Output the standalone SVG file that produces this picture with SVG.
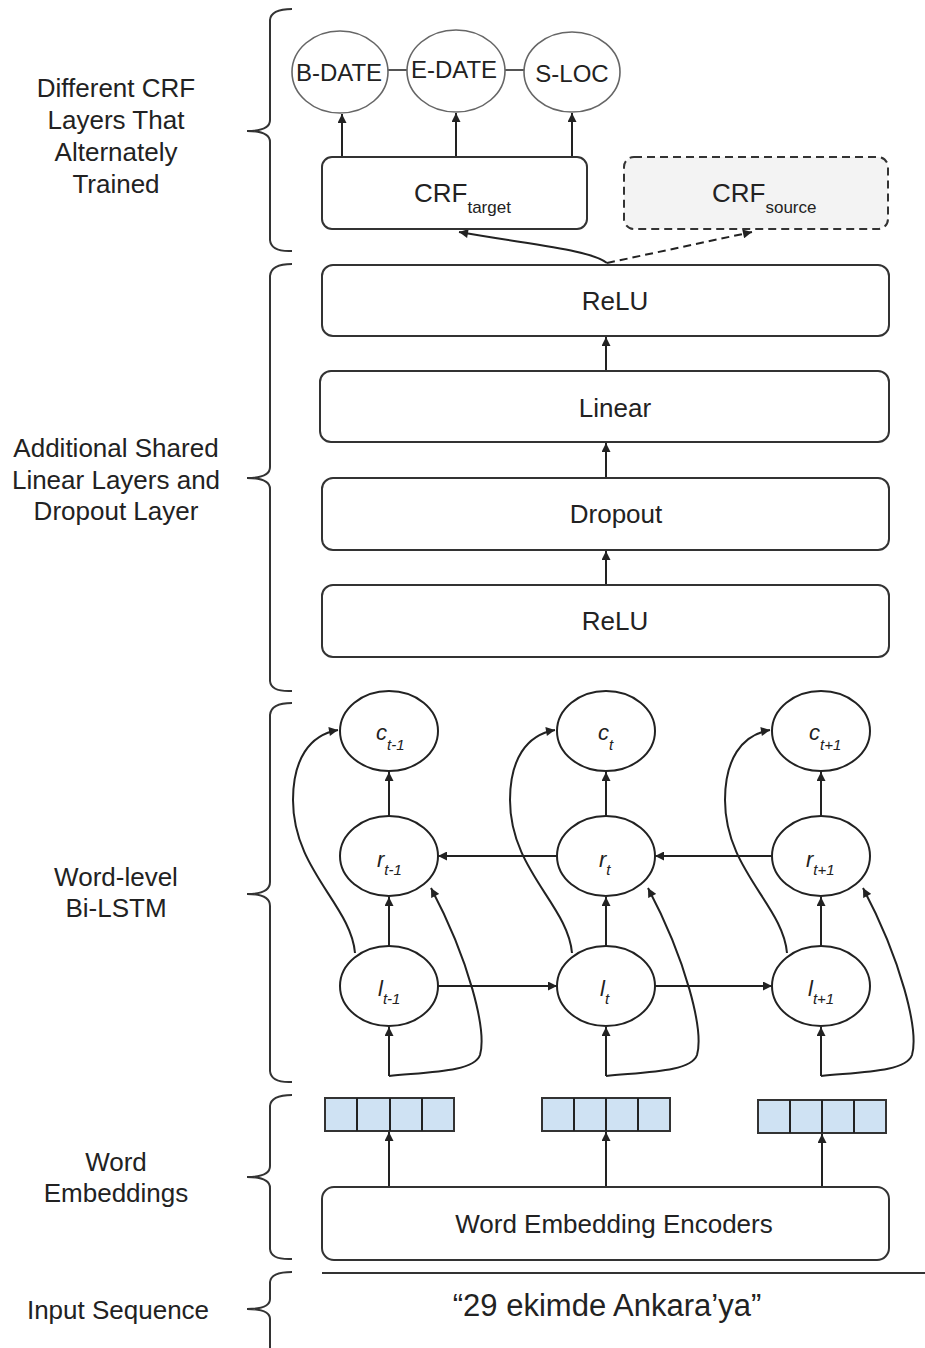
<svg xmlns="http://www.w3.org/2000/svg" width="925" height="1348" viewBox="0 0 925 1348">
  <style>
    text { font-family: "Liberation Sans", Arial, sans-serif; fill: #222; }
    .lbl { font-size: 26px; text-anchor: middle; }
    .box { fill: #fff; stroke: #333; stroke-width: 2; }
    .tag { fill: #fff; stroke: #666; stroke-width: 1.6; }
    .cell { fill: #cfe2f3; stroke: #333; stroke-width: 2; }
    .ell { fill: #fff; stroke: #222; stroke-width: 2; }
    .brace { fill: none; stroke: #333; stroke-width: 2; }
    .edge { fill: none; stroke: #222; stroke-width: 2; }
    .arr { marker-end: url(#ah); }
    .dash { stroke-dasharray: 8 5; }
    .var { font-size: 22px; font-style: italic; }
    .sub { font-size: 15px; font-style: italic; }
  </style>
  <defs>
    <marker id="ah" viewBox="0 0 10 10" refX="10" refY="5" markerWidth="10" markerHeight="9" markerUnits="userSpaceOnUse" orient="auto">
      <path d="M0,0 L10,5 L0,10 z" fill="#222"/>
    </marker>
  </defs>

  <rect width="925" height="1348" fill="#fff"/>

  <!-- section braces and captions -->
  <g id="braces">
    <path class="brace" d="M292,9 Q271,9 270,20 L270,120 Q270,131 247,131 Q270,131 270,142 L270,240 Q271,252 292,251"/>
    <path class="brace" d="M292,264 Q271,264 270,276 L270,467 Q270,478 247,478 Q270,478 270,489 L270,681 Q271,692 292,691"/>
    <path class="brace" d="M292,703 Q271,703 270,715 L270,882 Q270,894 247,894 Q270,894 270,906 L270,1071 Q271,1083 292,1082"/>
    <path class="brace" d="M292,1095 Q271,1095 270,1106 L270,1166 Q270,1177 247,1177 Q270,1177 270,1188 L270,1249 Q271,1260 292,1259"/>
    <path class="brace" d="M292,1272 Q271,1272 270,1282 L270,1299 Q270,1309 247,1309 Q270,1309 270,1319 L270,1348"/>
  </g>
  <g id="captions">
    <text class="lbl" x="116" y="97">Different CRF</text>
    <text class="lbl" x="116" y="129">Layers That</text>
    <text class="lbl" x="116" y="161">Alternately</text>
    <text class="lbl" x="116" y="193">Trained</text>
    <text class="lbl" x="116" y="457">Additional Shared</text>
    <text class="lbl" x="116" y="489">Linear Layers and</text>
    <text class="lbl" x="116" y="520">Dropout Layer</text>
    <text class="lbl" x="116" y="886">Word-level</text>
    <text class="lbl" x="116" y="917">Bi-LSTM</text>
    <text class="lbl" x="116" y="1171">Word</text>
    <text class="lbl" x="116" y="1202">Embeddings</text>
    <text class="lbl" x="118" y="1319">Input Sequence</text>
  </g>

  <!-- connectors -->
  <g id="connectors">
    <!-- tag chain -->
    <line class="edge" x1="388" y1="70" x2="407" y2="70" style="stroke:#555"/>
    <line class="edge" x1="505" y1="70" x2="525" y2="70" style="stroke:#555"/>
    <!-- CRF outputs -->
    <line class="edge arr" x1="342" y1="157" x2="342" y2="114"/>
    <line class="edge arr" x1="456" y1="157" x2="456" y2="113"/>
    <line class="edge arr" x1="572" y1="157" x2="572" y2="113"/>
    <!-- shared stack to CRF heads -->
    <path class="edge arr" d="M607,263 C590,250 540,246 459,232"/>
    <path class="edge arr dash" d="M607,263 L752,232"/>
    <!-- shared stack -->
    <line class="edge arr" x1="606" y1="370" x2="606" y2="337"/>
    <line class="edge arr" x1="606" y1="478" x2="606" y2="443"/>
    <line class="edge arr" x1="606" y1="584" x2="606" y2="551"/>

    <!-- Bi-LSTM: vertical flow -->
    <line class="edge arr" x1="389" y1="816" x2="389" y2="772"/>
    <line class="edge arr" x1="606" y1="816" x2="606" y2="772"/>
    <line class="edge arr" x1="821" y1="816" x2="821" y2="772"/>
    <line class="edge arr" x1="389" y1="946" x2="389" y2="897"/>
    <line class="edge arr" x1="606" y1="946" x2="606" y2="897"/>
    <line class="edge arr" x1="821" y1="946" x2="821" y2="897"/>
    <line class="edge arr" x1="389" y1="1076" x2="389" y2="1027"/>
    <line class="edge arr" x1="606" y1="1076" x2="606" y2="1027"/>
    <line class="edge arr" x1="821" y1="1076" x2="821" y2="1027"/>
    <!-- forward and backward chains -->
    <line class="edge arr" x1="438" y1="986" x2="557" y2="986"/>
    <line class="edge arr" x1="655" y1="986" x2="772" y2="986"/>
    <line class="edge arr" x1="557" y1="856" x2="438" y2="856"/>
    <line class="edge arr" x1="772" y1="856" x2="655" y2="856"/>
    <!-- skip from forward state to output -->
    <path class="edge arr" d="M355,953 C351,905 293,870 293,800 C293,760 309,735 338,730"/>
    <path class="edge arr" d="M572,953 C568,905 510,870 510,800 C510,760 526,735 555,730"/>
    <path class="edge arr" d="M787,953 C783,905 725,870 725,800 C725,760 741,735 770,730"/>
    <!-- input fed to backward state -->
    <path class="edge arr" d="M389,1076 C429,1072 474,1072 480,1055 C487,1030 469,960 431,888"/>
    <path class="edge arr" d="M606,1076 C646,1072 691,1072 697,1055 C704,1030 686,960 648,888"/>
    <path class="edge arr" d="M821,1076 C861,1072 906,1072 912,1055 C919,1030 901,960 863,888"/>

    <!-- encoders to embeddings -->
    <line class="edge arr" x1="389" y1="1187" x2="389" y2="1132"/>
    <line class="edge arr" x1="606" y1="1187" x2="606" y2="1132"/>
    <line class="edge arr" x1="822" y1="1187" x2="822" y2="1134"/>
  </g>

  <!-- CRF output tags -->
  <g id="tag-bdate"><ellipse class="tag" cx="340" cy="72" rx="48" ry="41"/><text x="339" y="81" font-size="24" text-anchor="middle">B-DATE</text></g>
  <g id="tag-edate"><ellipse class="tag" cx="456" cy="71" rx="49" ry="41"/><text x="454" y="78" font-size="24" text-anchor="middle">E-DATE</text></g>
  <g id="tag-sloc"><ellipse class="tag" cx="572" cy="72" rx="48" ry="40"/><text x="572" y="82" font-size="24" text-anchor="middle">S-LOC</text></g>

  <!-- CRF heads -->
  <g id="crf-target">
    <rect class="box" x="322" y="157" width="265" height="72" rx="10"/>
    <text x="414" y="202" font-size="26">CRF<tspan font-size="17" dy="11">target</tspan></text>
  </g>
  <g id="crf-source">
    <rect class="box dash" x="624" y="157" width="264" height="72" rx="10" style="fill:#f3f3f3"/>
    <text x="712" y="202" font-size="26">CRF<tspan font-size="17" dy="11">source</tspan></text>
  </g>

  <!-- shared layers -->
  <g id="relu-top"><rect class="box" x="322" y="265" width="567" height="71" rx="11"/><text class="lbl" x="615" y="310">ReLU</text></g>
  <g id="linear"><rect class="box" x="320" y="371" width="569" height="71" rx="11"/><text class="lbl" x="615" y="417">Linear</text></g>
  <g id="dropout"><rect class="box" x="322" y="478" width="567" height="72" rx="11"/><text class="lbl" x="616" y="523">Dropout</text></g>
  <g id="relu-bottom"><rect class="box" x="322" y="585" width="567" height="72" rx="11"/><text class="lbl" x="615" y="630">ReLU</text></g>

  <!-- Bi-LSTM cells -->
  <g id="c-prev"><ellipse class="ell" cx="389" cy="731" rx="49" ry="40"/><text x="376" y="740"><tspan class="var">c</tspan><tspan class="sub" dy="10">t-1</tspan></text></g>
  <g id="c-cur"><ellipse class="ell" cx="606" cy="731" rx="49" ry="40"/><text x="598" y="740"><tspan class="var">c</tspan><tspan class="sub" dy="10">t</tspan></text></g>
  <g id="c-next"><ellipse class="ell" cx="821" cy="731" rx="49" ry="40"/><text x="809" y="740"><tspan class="var">c</tspan><tspan class="sub" dy="10">t+1</tspan></text></g>
  <g id="r-prev"><ellipse class="ell" cx="389" cy="856" rx="49" ry="40"/><text x="377" y="867"><tspan class="var">r</tspan><tspan class="sub" dy="8">t-1</tspan></text></g>
  <g id="r-cur"><ellipse class="ell" cx="606" cy="856" rx="49" ry="40"/><text x="599" y="867"><tspan class="var">r</tspan><tspan class="sub" dy="8">t</tspan></text></g>
  <g id="r-next"><ellipse class="ell" cx="821" cy="856" rx="49" ry="40"/><text x="806" y="867"><tspan class="var">r</tspan><tspan class="sub" dy="8">t+1</tspan></text></g>
  <g id="l-prev"><ellipse class="ell" cx="389" cy="986" rx="49" ry="40"/><text x="378" y="996"><tspan class="var">l</tspan><tspan class="sub" dy="8">t-1</tspan></text></g>
  <g id="l-cur"><ellipse class="ell" cx="606" cy="986" rx="49" ry="40"/><text x="600" y="996"><tspan class="var">l</tspan><tspan class="sub" dy="8">t</tspan></text></g>
  <g id="l-next"><ellipse class="ell" cx="821" cy="986" rx="49" ry="40"/><text x="808" y="996"><tspan class="var">l</tspan><tspan class="sub" dy="8">t+1</tspan></text></g>

  <!-- word embedding vectors -->
  <g id="emb-1">
    <rect class="cell" x="325" y="1098" width="129" height="33"/>
    <path class="edge" d="M357,1098 V1131 M390,1098 V1131 M422,1098 V1131"/>
  </g>
  <g id="emb-2">
    <rect class="cell" x="542" y="1098" width="128" height="33"/>
    <path class="edge" d="M574,1098 V1131 M606,1098 V1131 M638,1098 V1131"/>
  </g>
  <g id="emb-3">
    <rect class="cell" x="758" y="1100" width="128" height="33"/>
    <path class="edge" d="M790,1100 V1133 M822,1100 V1133 M854,1100 V1133"/>
  </g>

  <!-- encoder -->
  <g id="encoder">
    <rect class="box" x="322" y="1187" width="567" height="73" rx="12"/>
    <text class="lbl" x="614" y="1233">Word Embedding Encoders</text>
  </g>

  <!-- input sentence -->
  <g id="input">
    <line x1="322" y1="1273" x2="925" y2="1273" stroke="#333" stroke-width="2"/>
    <text x="607" y="1316" font-size="31" text-anchor="middle">“29 ekimde Ankara’ya”</text>
  </g>
</svg>
